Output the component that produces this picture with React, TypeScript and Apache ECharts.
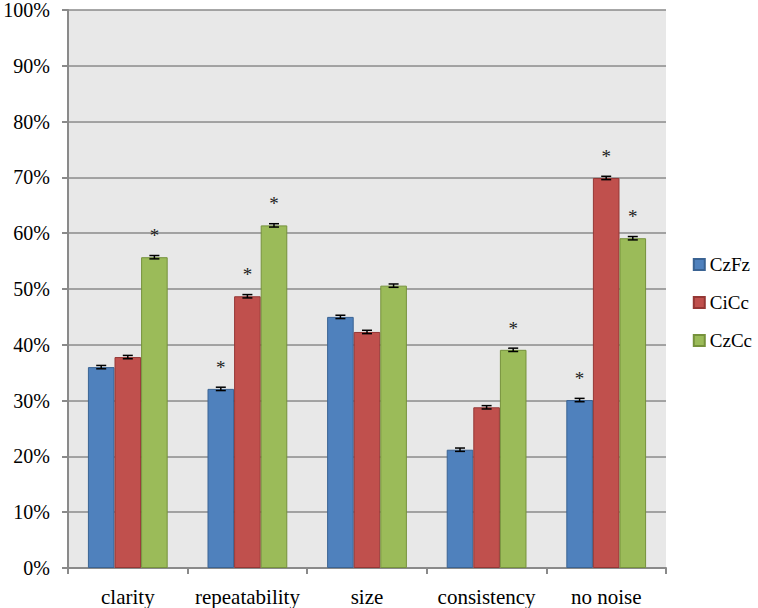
import React, { useEffect, useRef } from "react";
import * as echarts from "echarts";

const categories = ["clarity", "repeatability", "size", "consistency", "no noise"];
const seriesNames = ["CzFz", "CiCc", "CzCc"];
const czfz = [36.0, 32.1, 45.0, 21.2, 30.1];
const cicc = [37.8, 48.7, 42.3, 28.8, 69.9];
const czcc = [55.7, 61.4, 50.6, 39.1, 59.1];
const errors = [
  [0.3, 0.3, 0.3, 0.3, 0.3],
  [0.3, 0.3, 0.3, 0.3, 0.3],
  [0.3, 0.3, 0.3, 0.3, 0.3],
];
const stars = [
  [false, true, false, false, true],
  [false, true, false, false, true],
  [true, true, false, true, true],
];
const yTicks = [0, 10, 20, 30, 40, 50, 60, 70, 80, 90, 100];

const FONT = "'Liberation Serif', 'Times New Roman', serif";
const fills = ["#4f81bd", "#c0504d", "#9bbb59"];
const borders = ["#3a6393", "#953735", "#76923c"];

export default function App() {
  const ref = useRef<HTMLDivElement>(null);
  useEffect(() => {
    if (!ref.current) return;
    const chart = echarts.init(ref.current, undefined, { renderer: "svg" });
    const values = [czfz, cicc, czcc];
    const errData: any[] = [];
    values.forEach((arr, si) => {
      arr.forEach((v, ci) => {
        errData.push([ci, v, si, errors[si][ci], stars[si][ci] ? 1 : 0]);
      });
    });
    const barFrac = (1 - 0.333) / 3;
    chart.setOption({
      animation: false,
      backgroundColor: "#ffffff",
      textStyle: { fontFamily: FONT },
      grid: { left: 68, right: 92, top: 9, bottom: 40, containLabel: false },
      legend: {
        orient: "vertical",
        right: 1,
        top: 250,
        itemWidth: 11,
        itemHeight: 11,
        itemGap: 19,
        icon: "rect",
        textStyle: { fontFamily: FONT, fontSize: 19, color: "#000" },
        data: seriesNames,
      },
      xAxis: {
        type: "category",
        data: categories,
        axisLine: { lineStyle: { color: "#8a8a8a", width: 2 } },
        axisTick: { show: true, length: 6, lineStyle: { color: "#8a8a8a", width: 2 } },
        axisLabel: {
          interval: 0,
          fontFamily: FONT,
          fontSize: 21,
          color: "#000",
          margin: 18,
          hideOverlap: false,
        },
        splitLine: { show: false },
      },
      yAxis: {
        type: "value",
        min: 0,
        max: 100,
        interval: 10,
        axisLine: { show: true, lineStyle: { color: "#8a8a8a", width: 2 } },
        axisTick: { show: true, length: 6, lineStyle: { color: "#8a8a8a", width: 2 } },
        axisLabel: {
          fontFamily: FONT,
          fontSize: 20,
          color: "#000",
          margin: 18,
          formatter: (v: number) => (yTicks.includes(v) ? v + "%" : ""),
        },
        splitLine: { show: true, lineStyle: { color: "#8a8a8a", width: 1.5 } },
        splitArea: { show: true, areaStyle: { color: ["#e8e8e8", "#e8e8e8"] } },
      },
      series: [
        ...values.map((arr, si) => ({
          name: seriesNames[si],
          type: "bar",
          data: arr,
          barGap: "0%",
          barCategoryGap: "33.3%",
          itemStyle: { color: fills[si], borderColor: borders[si], borderWidth: 1 },
          z: 2,
        })),
        {
          type: "custom",
          data: errData,
          z: 5,
          silent: true,
          renderItem: (params: any, api: any) => {
            const ci = api.value(0);
            const v = api.value(1);
            const si = api.value(2);
            const e = api.value(3);
            const star = api.value(4);
            const band = api.size([1, 0])[0];
            const bw = band * barFrac;
            const c = api.coord([ci, v]);
            const cx = c[0] + (si - 1) * bw;
            const top = api.coord([ci, v + e])[1];
            const bot = api.coord([ci, v - e])[1];
            const half = 5;
            const ls = { stroke: "#000", lineWidth: 1.5 };
            const children: any[] = [
              { type: "line", shape: { x1: cx, y1: top, x2: cx, y2: bot }, style: ls },
              { type: "line", shape: { x1: cx - half, y1: top, x2: cx + half, y2: top }, style: ls },
              { type: "line", shape: { x1: cx - half, y1: bot, x2: cx + half, y2: bot }, style: ls },
            ];
            if (star) {
              const sy = api.coord([ci, v + 4.6])[1];
              children.push({
                type: "text",
                style: {
                  text: "*",
                  x: cx,
                  y: sy + 4,
                  align: "center",
                  verticalAlign: "middle",
                  fontFamily: FONT,
                  fontSize: 19,
                  fill: "#222",
                },
              });
            }
            return { type: "group", children };
          },
        },
      ],
    });
    return () => chart.dispose();
  }, []);
  return (
    <div
      ref={ref}
      style={{ position: "fixed", left: 0, top: 0, width: 758, height: 608 }}
    />
  );
}
